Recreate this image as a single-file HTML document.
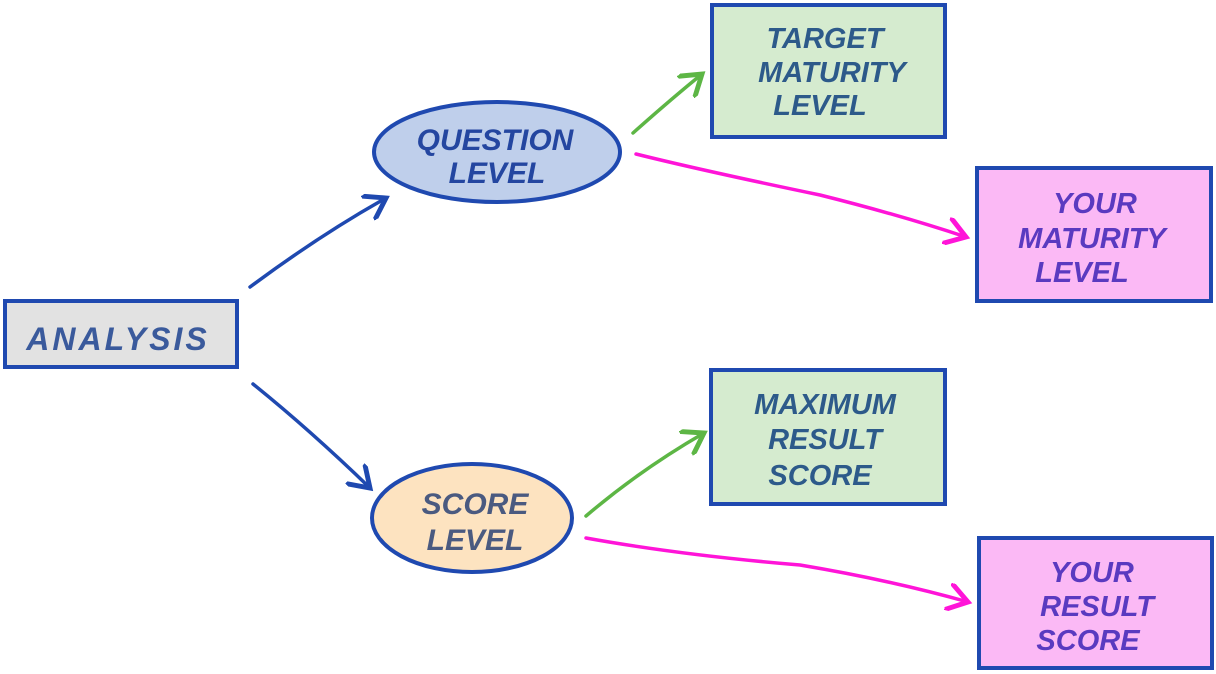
<!DOCTYPE html>
<html><head><meta charset="utf-8"><style>
html,body{margin:0;padding:0;background:#fff;}
svg{display:block}
text{font-family:"Liberation Sans",sans-serif;font-weight:bold;font-style:italic;text-anchor:middle;}
</style></head><body>
<svg width="1216" height="674" viewBox="0 0 1216 674" xmlns="http://www.w3.org/2000/svg">
<defs>
<marker id="ab" markerWidth="8" markerHeight="8" refX="6" refY="4" orient="auto" markerUnits="strokeWidth"><path d="M0,0 L6,4 L0,8" fill="none" stroke="#1f49b0" stroke-width="1.4"/></marker>
<marker id="ag" markerWidth="8" markerHeight="8" refX="6" refY="4" orient="auto" markerUnits="strokeWidth"><path d="M0,0 L6,4 L0,8" fill="none" stroke="#5db645" stroke-width="1.4"/></marker>
<marker id="ap" markerWidth="8" markerHeight="8" refX="6" refY="4" orient="auto" markerUnits="strokeWidth"><path d="M0,0 L6,4 L0,8" fill="none" stroke="#ff14d8" stroke-width="1.4"/></marker>
</defs>
<rect x="5" y="301" width="232" height="66" fill="#e2e2e2" stroke="#1f49b0" stroke-width="4"/>
<text x="118" y="350" font-size="32" fill="#3a5a9c" letter-spacing="3">ANALYSIS</text>
<ellipse cx="497" cy="152" rx="123" ry="50" fill="#bfcfeb" stroke="#1f49b0" stroke-width="4"/>
<text x="495" y="150" font-size="30" fill="#2446a0">QUESTION</text>
<text x="497" y="183" font-size="30" fill="#2446a0">LEVEL</text>
<ellipse cx="472" cy="518" rx="100" ry="54" fill="#fde3c0" stroke="#1f49b0" stroke-width="4"/>
<text x="475" y="514" font-size="30" fill="#4a5a80">SCORE</text>
<text x="475" y="550" font-size="30" fill="#4a5a80">LEVEL</text>
<rect x="712" y="5" width="233" height="132" fill="#d5ebcf" stroke="#1f49b0" stroke-width="4"/>
<g font-size="29" fill="#2d5a8a"><text x="825" y="48">TARGET</text><text x="832" y="82">MATURITY</text><text x="820" y="115">LEVEL</text></g>
<rect x="977" y="168" width="234" height="133" fill="#fbb9f5" stroke="#1f49b0" stroke-width="4"/>
<g font-size="29" fill="#5a3ac0"><text x="1095" y="213">YOUR</text><text x="1092" y="248">MATURITY</text><text x="1082" y="282">LEVEL</text></g>
<rect x="711" y="370" width="234" height="134" fill="#d5ebcf" stroke="#1f49b0" stroke-width="4"/>
<g font-size="29" fill="#2d5a8a"><text x="825" y="414">MAXIMUM</text><text x="825" y="449">RESULT</text><text x="820" y="485">SCORE</text></g>
<rect x="979" y="538" width="233" height="130" fill="#fbb9f5" stroke="#1f49b0" stroke-width="4"/>
<g font-size="29" fill="#5a3ac0"><text x="1092" y="582">YOUR</text><text x="1097" y="616">RESULT</text><text x="1088" y="650">SCORE</text></g>
<g fill="none" stroke-width="3.5" stroke-linecap="round">
<path d="M250,287 Q320,235 386,198" stroke="#1f49b0" marker-end="url(#ab)"/>
<path d="M253,384 Q310,430 370,488" stroke="#1f49b0" marker-end="url(#ab)"/>
<path d="M633,133 Q670,100 702,74" stroke="#5db645" marker-end="url(#ag)"/>
<path d="M586,516 Q640,470 704,433" stroke="#5db645" marker-end="url(#ag)"/>
<path d="M636,154 Q700,170 820,195 Q900,215 966,237" stroke="#ff14d8" marker-end="url(#ap)"/>
<path d="M586,538 Q680,555 800,565 Q890,580 968,602" stroke="#ff14d8" marker-end="url(#ap)"/>
</g>
</svg>
</body></html>
